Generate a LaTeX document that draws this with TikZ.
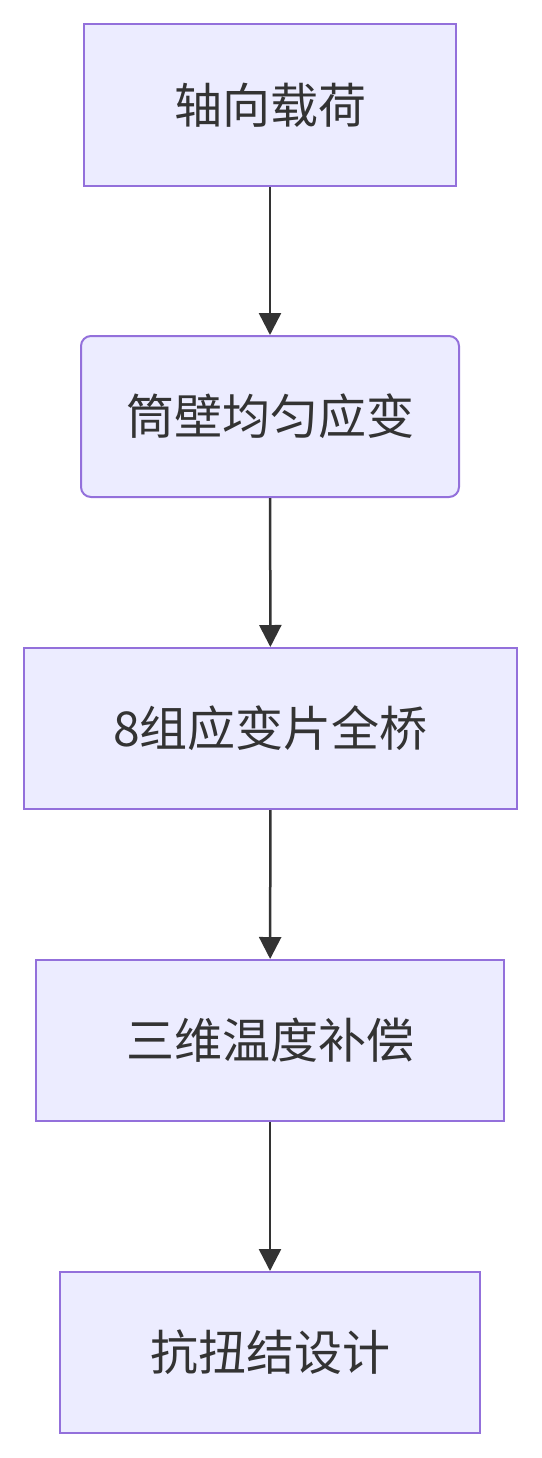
\documentclass[tikz,border=0pt]{standalone}
\usepackage{fontspec}
\newfontfamily\cjk{Noto Sans CJK SC}
\usetikzlibrary{arrows.meta}
\definecolor{boxfill}{HTML}{ECECFF}
\definecolor{boxline}{HTML}{9370DB}
\definecolor{txt}{HTML}{333333}
\begin{document}
\begin{tikzpicture}[x=1pt,y=-1pt,
  box/.style={draw=boxline,fill=boxfill,line width=2pt,inner sep=0pt,text=txt,font=\cjk\fontsize{48}{52}\selectfont},
  conn/.style={draw=txt,line width=2.5pt,-{Triangle[length=22pt,width=22pt]}}]
\useasboundingbox (0,0) rectangle (541,1458);
\node[box,minimum width=372pt,minimum height=162pt] (a) at (270,105) {轴向载荷};
\node[box,rounded corners=10pt,minimum width=378pt,minimum height=161pt] (b) at (270,416.5) {筒壁均匀应变};
\node[box,minimum width=493pt,minimum height=161pt] (c) at (270.5,728.5) {8组应变片全桥};
\node[box,minimum width=468pt,minimum height=161pt] (d) at (270,1040.5) {三维温度补偿};
\node[box,minimum width=420pt,minimum height=161pt] (e) at (270,1352.5) {抗扭结设计};
\draw[conn] (a) -- (b);
\draw[conn] (b) -- (c);
\draw[conn] (c) -- (d);
\draw[conn] (d) -- (e);
\end{tikzpicture}
\end{document}
